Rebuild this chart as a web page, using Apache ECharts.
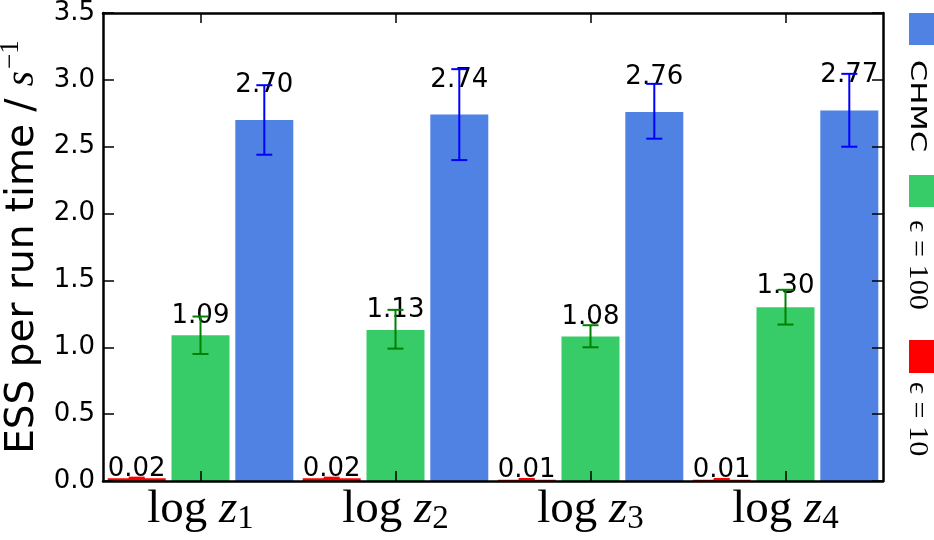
<!DOCTYPE html>
<html>
<head>
<meta charset="utf-8">
<script src="https://cdn.jsdelivr.net/npm/echarts@6/dist/echarts.min.js"></script>
<style>
	html,body{
		margin:0;
		padding:0;
		background:#fff;
	}
	#main{
		width:934px;
		height:540px;
	}
</style>
</head>
<body>
<div id="main"></div>
<script>
// subscripts of the x categories (log z_1 ... log z_4)
var categories = ['1', '2', '3', '4'];
var seriesNames = ['ϵ = 10', 'ϵ = 100', 'CHMC'];

var eps10 = [0.02, 0.02, 0.01, 0.01];
var eps10Low = [0.015, 0.015, 0.005, 0.005];
var eps10High = [0.025, 0.025, 0.015, 0.015];

var eps100 = [1.09, 1.13, 1.08, 1.30];
var eps100Low = [0.95, 0.99, 1.00, 1.17];
var eps100High = [1.23, 1.28, 1.165, 1.43];

var chmc = [2.70, 2.74, 2.76, 2.77];
var chmcLow = [2.44, 2.40, 2.56, 2.50];
var chmcHigh = [2.96, 3.08, 2.97, 3.045];

var barColors = ['#ff0000', '#37cc67', '#4f82e3'];
var errColors = ['#ff0000', '#008000', '#0000ff'];

var BAR_W = 58;
var GAP = 0.1;
var STEP = BAR_W * (1 + GAP);

function barSeries(name, vals, color) {
	return {
		name: name,
		type: 'bar',
		barWidth: BAR_W,
		barGap: (GAP * 100) + '%',
		itemStyle: { color: color },
		z: 2,
		data: vals
	};
}

// error bar + value label, drawn on top of the bars
function errSeries(vals, lows, highs, color, offset) {
	return {
		type: 'custom',
		z: 5,
		silent: true,
		data: vals.map(function (v, i) { return [i, v, lows[i], highs[i]]; }),
		renderItem: function (params, api) {
			var i = api.value(0), v = api.value(1);
			var lo = api.coord([i, api.value(2)]);
			var hi = api.coord([i, api.value(3)]);
			var lab = api.coord([i, v * 1.07]);
			var x = lo[0] + offset;
			var cap = 8;
			return {
				type: 'group',
				children: [
					{ type: 'text', z2: 1, x: x, y: lab[1] + 4,
						style: { text: v.toFixed(2), fill: '#000', fontSize: 26, fontFamily: 'DejaVu Sans',
							align: 'center', verticalAlign: 'bottom' } },
					{ type: 'line', z2: 2, shape: { x1: x, y1: lo[1], x2: x, y2: hi[1] },
						style: { stroke: color, lineWidth: 2 } },
					{ type: 'line', z2: 2, shape: { x1: x - cap, y1: lo[1], x2: x + cap, y2: lo[1] },
						style: { stroke: color, lineWidth: 2 } },
					{ type: 'line', z2: 2, shape: { x1: x - cap, y1: hi[1], x2: x + cap, y2: hi[1] },
						style: { stroke: color, lineWidth: 2 } }
				]
			};
		}
	};
}

var spine = { show: true, onZero: false, lineStyle: { color: '#000', width: 2.5 } };
var tickX = { show: true, inside: true, alignWithLabel: true, length: 10, lineStyle: { color: '#000', width: 1.5 } };
var tickY = { show: true, inside: true, length: 11, lineStyle: { color: '#000', width: 1.5 } };
var serif = 'Liberation Serif, DejaVu Serif, serif';

var myChart = echarts.init(document.getElementById('main'));
var option = {
	animation: false,
	backgroundColor: '#fff',
	grid: { left: 103, right: 51, top: 13, bottom: 59, containLabel: false, outerBoundsMode: 'none' },
	xAxis: [
		{
			type: 'category', data: categories, position: 'bottom', z: 10,
			axisLine: spine, axisTick: tickX, splitLine: { show: false },
			axisLabel: {
				margin: 4,
				formatter: function (v) { return '{l|log }{z|z}{s|' + v + '}'; },
				rich: {
					l: { fontFamily: serif, fontSize: 47, color: '#000', lineHeight: 50 },
					z: { fontFamily: serif, fontStyle: 'italic', fontSize: 47, color: '#000', lineHeight: 50 },
					s: { fontFamily: serif, fontSize: 33, color: '#000', lineHeight: 50, padding: [18, 0, 0, 0] }
				}
			}
		},
		{
			type: 'category', data: categories, position: 'top', z: 10,
			axisLine: spine, axisTick: tickX, axisLabel: { show: false }, splitLine: { show: false }
		}
	],
	yAxis: [
		{
			type: 'value', min: 0, max: 3.5, interval: 0.5, position: 'left', z: 10,
			axisLine: spine, axisTick: tickY, splitLine: { show: false },
			axisLabel: {
				margin: 8, color: '#000', fontSize: 26, fontFamily: 'DejaVu Sans',
				formatter: function (v) { return v.toFixed(1); }
			},
			name: '{a|ESS per run time / }{s|s}{p|−1}',
			nameLocation: 'middle',
			nameGap: 55,
			nameMoveOverlap: false,
			nameTextStyle: {
				rich: {
					a: { fontSize: 39, fontFamily: 'DejaVu Sans', color: '#000' },
					s: { fontSize: 39, fontFamily: serif, fontStyle: 'italic', color: '#000' },
					p: { fontSize: 27, fontFamily: serif, color: '#000', padding: [0, 0, 24, 2] }
				}
			}
		},
		{
			type: 'value', min: 0, max: 3.5, interval: 0.5, position: 'right', z: 10,
			axisLine: spine, axisTick: tickY, axisLabel: { show: false }, splitLine: { show: false }
		}
	],
	series: [
		barSeries(seriesNames[0], eps10, barColors[0]),
		barSeries(seriesNames[1], eps100, barColors[1]),
		barSeries(seriesNames[2], chmc, barColors[2]),
		errSeries(eps10, eps10Low, eps10High, errColors[0], -STEP),
		errSeries(eps100, eps100Low, eps100High, errColors[1], 0),
		errSeries(chmc, chmcLow, chmcHigh, errColors[2], STEP)
	],
	// legend on the right, rotated to read top to bottom
	graphic: [
		{ type: 'rect', left: 909, top: 13, shape: { width: 30, height: 32 }, style: { fill: barColors[2] } },
		{ type: 'text', x: 917, y: 106, rotation: -Math.PI / 2, scaleX: 1.4,
			style: { text: seriesNames[2], fontSize: 22, fontFamily: 'DejaVu Sans', fill: '#000', align: 'center', verticalAlign: 'middle' } },
		{ type: 'rect', left: 909, top: 175, shape: { width: 30, height: 32 }, style: { fill: barColors[1] } },
		{ type: 'text', x: 917, y: 265, rotation: -Math.PI / 2, scaleX: 1.08,
			style: { text: seriesNames[1], fontSize: 28, fontFamily: serif, fill: '#000', align: 'center', verticalAlign: 'middle' } },
		{ type: 'rect', left: 909, top: 340, shape: { width: 30, height: 33 }, style: { fill: barColors[0] } },
		{ type: 'text', x: 917, y: 419, rotation: -Math.PI / 2, scaleX: 1.08,
			style: { text: seriesNames[0], fontSize: 28, fontFamily: serif, fill: '#000', align: 'center', verticalAlign: 'middle' } }
	]
};
myChart.setOption(option);
</script>
</body>
</html>
